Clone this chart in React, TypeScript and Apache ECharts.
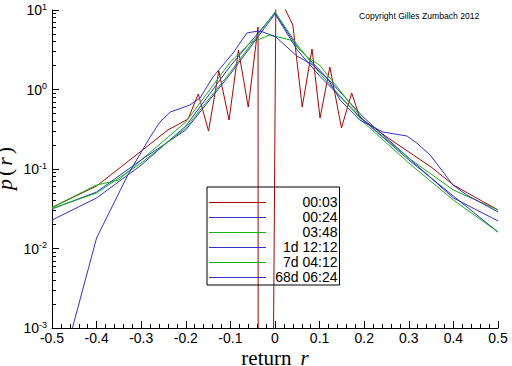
import React, { useEffect, useRef } from "react";
import * as echarts from "echarts";

const seriesNames = ["00:03", "00:24", "03:48", "1d 12:12", "7d 04:12", "68d 06:24"];
const seriesColors = ["#b40000", "#3232c8", "#14b414", "#3232c8", "#14b414", "#3232c8"];

// [return r, density p(r)]
const s0003: [number, number][] = [
  [-0.5, 0.0328], [-0.4, 0.0611], [-0.3, 0.168], [-0.24, 0.31], [-0.195, 0.425],
  [-0.172, 0.877], [-0.149, 0.3], [-0.126, 1.71], [-0.103, 0.413], [-0.082, 3.14],
  [-0.06, 0.602], [-0.038, 6.11], [-0.036, 1e-30], [-0.012, 1e-10], [0.002, 15],
  [0.02, 11], [0.04, 6.48], [0.061, 0.602], [0.083, 3.23], [0.101, 0.438],
  [0.123, 1.92], [0.149, 0.328], [0.172, 0.904], [0.19, 0.447], [0.26, 0.232],
  [0.35, 0.106], [0.4, 0.0629], [0.5, 0.0305],
];
const s0024: [number, number][] = [
  [-0.5, 0.0228], [-0.4, 0.0432], [-0.3, 0.112], [-0.2, 0.347], [-0.1, 1.98],
  [0, 9.17], [0.05, 3.42], [0.1, 1.76], [0.2, 0.438], [0.3, 0.137], [0.4, 0.0432], [0.5, 0.0222],
];
const s0348: [number, number][] = [
  [-0.5, 0.0328], [-0.4, 0.0629], [-0.35, 0.0727], [-0.3, 0.13], [-0.2, 0.39],
  [-0.1, 2.22], [-0.056, 3.85], [-0.011, 4.85], [0.034, 4.2], [0.072, 2.56],
  [0.1, 2.03], [0.2, 0.402], [0.3, 0.137], [0.4, 0.0544], [0.5, 0.0305],
];
const s1d1212: [number, number][] = [
  [-0.5, 0.0314], [-0.4, 0.0514], [-0.3, 0.13], [-0.2, 0.31], [-0.1, 1.57],
  [0, 8.91], [0.05, 3.14], [0.1, 1.48], [0.2, 0.402], [0.3, 0.13], [0.4, 0.0457], [0.5, 0.0161],
];
const s7d0412: [number, number][] = [
  [-0.5, 0.0318], [-0.4, 0.0499], [-0.3, 0.119], [-0.2, 0.328], [-0.1, 1.66],
  [0, 9.44], [0.05, 3.63], [0.1, 1.61], [0.2, 0.379], [0.3, 0.119], [0.4, 0.0407], [0.5, 0.0161],
];
const s68d0624: [number, number][] = [
  [-0.5, 0.00011], [-0.4, 0.0136], [-0.33, 0.084], [-0.28, 0.253], [-0.258, 0.389],
  [-0.235, 0.521], [-0.209, 0.585], [-0.191, 0.638], [-0.168, 0.782], [-0.139, 1.44],
  [-0.094, 2.88], [-0.063, 5.14], [-0.038, 5.44], [-0.027, 5.29], [0.002, 4.57],
  [0.049, 2.64], [0.085, 2.03], [0.12, 1.32], [0.146, 0.738], [0.19, 0.413],
  [0.242, 0.292], [0.296, 0.26], [0.318, 0.212], [0.348, 0.15], [0.399, 0.0629],
  [0.43, 0.0471], [0.5, 0.0288],
];
const seriesData = [s0003, s0024, s0348, s1d1212, s7d0412, s68d0624];

const yMajorTicks = [0.001, 0.01, 0.1, 1, 10];
const yMinorTicks = [
  0.002, 0.003, 0.004, 0.005, 0.006, 0.007, 0.008, 0.009,
  0.02, 0.03, 0.04, 0.05, 0.06, 0.07, 0.08, 0.09,
  0.2, 0.3, 0.4, 0.5, 0.6, 0.7, 0.8, 0.9,
  2, 3, 4, 5, 6, 7, 8, 9,
];
const xMin = -0.5;
const xMax = 0.5;
const xInterval = 0.1;
const copyright = "Copyright Gilles Zumbach 2012";

const SANS = "'Liberation Sans', Arial, sans-serif";
const SERIF = "'Liberation Serif', 'Times New Roman', serif";

// legend layout
const LEG_LEFT = 207;
const LEG_TOP = 187;
const LEG_PAD_TOP = 7.5;
const LEG_ROW = 15;
const LEG_ITEM_H = 14;

export default function App() {
  const ref = useRef<HTMLDivElement>(null);
  useEffect(() => {
    const chart = echarts.init(ref.current!, null, { renderer: "svg" });
    const legendLines = seriesNames.map((_, i) => {
      const y = Math.round(LEG_TOP + LEG_PAD_TOP + LEG_ITEM_H / 2 + i * LEG_ROW) + 0.5;
      return {
        type: "line",
        z: 100,
        silent: true,
        shape: { x1: LEG_LEFT + 2, y1: y, x2: LEG_LEFT + 59, y2: y },
        style: { stroke: seriesColors[i], lineWidth: 1 },
      };
    });
    chart.setOption({
      animation: false,
      backgroundColor: "#fff",
      grid: { left: 52, right: 14, top: 10, bottom: 38, containLabel: false, outerBoundsMode: "none" },
      xAxis: {
        type: "value",
        min: xMin,
        max: xMax,
        interval: xInterval,
        name: "{n|return}{i|r}",
        nameLocation: "middle",
        nameGap: 19,
        nameMoveOverlap: false,
        nameTextStyle: {
          rich: {
            n: { fontFamily: SERIF, fontSize: 21, color: "#000" },
            i: { fontFamily: SERIF, fontSize: 21, fontStyle: "italic", color: "#000", padding: [0, 0, 0, 9] },
          },
        },
        axisLine: { show: true, onZero: false, lineStyle: { color: "#000", width: 1 } },
        axisTick: { show: true, inside: true, length: 7, lineStyle: { color: "#000" } },
        minorTick: { show: true, splitNumber: 5, length: 4, lineStyle: { color: "#000" } },
        axisLabel: {
          color: "#000",
          fontFamily: SANS,
          fontSize: 14,
          margin: 3,
          formatter: (v: number) => (Math.abs(v) < 1e-9 ? "0" : v.toFixed(1)),
        },
        splitLine: { show: false },
      },
      yAxis: [
        {
          type: "log",
          logBase: 10,
          min: 0.001,
          max: 10,
          position: "left",
          name: "{i|p}{n|(}{i|r}{n|)}",
          nameLocation: "middle",
          nameGap: 37,
          nameMoveOverlap: false,
          nameRotate: 90,
          nameTextStyle: {
            rich: {
              n: { fontFamily: SERIF, fontSize: 22, color: "#000", padding: [0, 1] },
              i: { fontFamily: SERIF, fontSize: 22, fontStyle: "italic", color: "#000", padding: [0, 2] },
            },
          },
          axisLine: { show: true, onZero: false, lineStyle: { color: "#000", width: 1 } },
          axisTick: { show: true, inside: true, length: 7, customValues: yMajorTicks, lineStyle: { color: "#000" } },
          axisLabel: {
            customValues: yMajorTicks,
            margin: 5,
            formatter: (v: number) => `{b|10}{e|${Math.round(Math.log10(v))}}`,
            rich: {
              b: { fontFamily: SANS, fontSize: 14, color: "#000", lineHeight: 16 },
              e: { fontFamily: SANS, fontSize: 9, color: "#000", verticalAlign: "top", lineHeight: 10 },
            },
          },
          splitLine: { show: false },
        },
        {
          type: "log",
          logBase: 10,
          min: 0.001,
          max: 10,
          position: "left",
          axisLine: { show: false, onZero: false },
          axisTick: { show: true, inside: true, length: 4, customValues: yMinorTicks, lineStyle: { color: "#000" } },
          axisLabel: { show: false },
          splitLine: { show: false },
        },
      ],
      legend: {
        orient: "vertical",
        left: LEG_LEFT,
        top: LEG_TOP,
        padding: [LEG_PAD_TOP, 2, 1.5, 2],
        itemGap: LEG_ROW - LEG_ITEM_H,
        itemWidth: 57,
        itemHeight: LEG_ITEM_H,
        borderColor: "#000",
        borderWidth: 1,
        selectedMode: false,
        itemStyle: { opacity: 0 },
        lineStyle: { width: 1, opacity: 0 },
        data: seriesNames,
        formatter: (n: string) => `{a|${n}}`,
        textStyle: {
          rich: {
            a: { width: 66, align: "right", fontSize: 14, lineHeight: 14, fontFamily: SANS, color: "#000" },
          },
        },
      },
      graphic: [
        {
          type: "text",
          left: 359,
          top: 11,
          style: { text: copyright, fontFamily: SANS, fontSize: 8.6, fill: "#000" },
        },
        ...legendLines,
      ],
      series: seriesNames.map((name, i) => ({
        name,
        type: "line",
        data: seriesData[i],
        xAxisIndex: 0,
        yAxisIndex: 0,
        showSymbol: false,
        symbol: "none",
        clip: true,
        color: seriesColors[i],
        lineStyle: { width: 1, color: seriesColors[i] },
        itemStyle: { color: seriesColors[i] },
      })),
    });
    return () => chart.dispose();
  }, []);
  return (
    <div
      ref={ref}
      style={{ position: "fixed", left: 0, top: 0, width: 512, height: 366, background: "#fff" }}
    />
  );
}
